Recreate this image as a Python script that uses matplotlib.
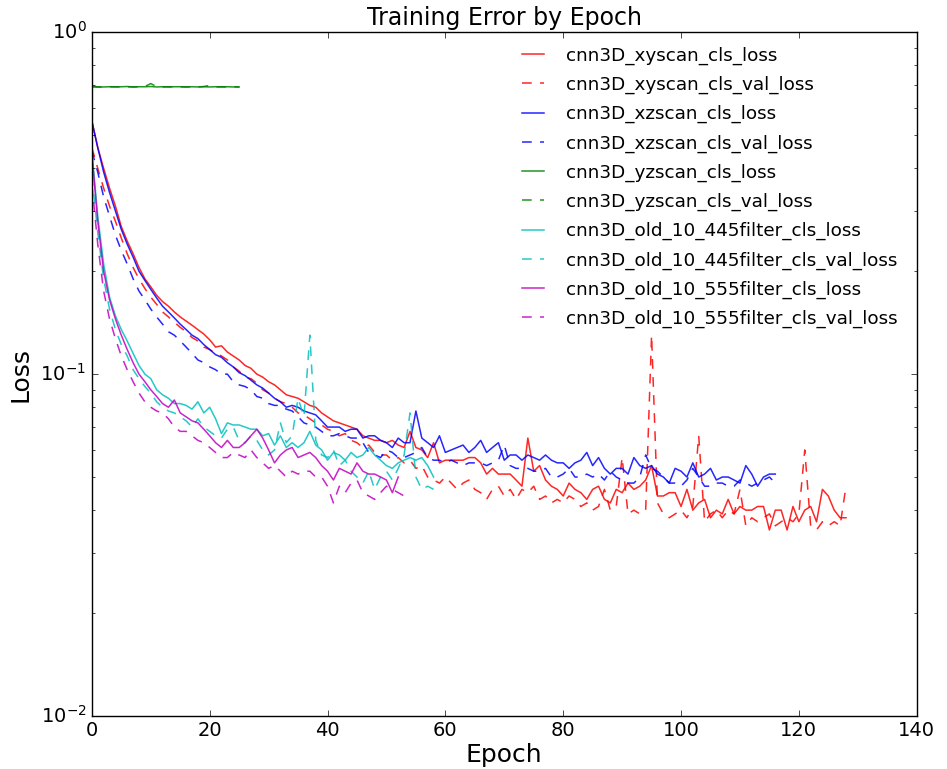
import numpy as np
import matplotlib
matplotlib.use('Agg')
from matplotlib import pyplot as plt

plt.style.use('classic')

# per-epoch losses for each run
xyscan_loss = [0.55, 0.46, 0.40, 0.35, 0.31, 0.27, 0.245, 0.225, 0.205, 0.19,
               0.18, 0.17, 0.163, 0.158, 0.152, 0.147, 0.143, 0.139, 0.135, 0.131,
               0.126, 0.12, 0.121, 0.116, 0.113, 0.110, 0.106, 0.104, 0.100, 0.098,
               0.095, 0.093, 0.090, 0.087, 0.086, 0.085, 0.083, 0.081, 0.080, 0.077,
               0.075, 0.073, 0.072, 0.071, 0.070, 0.069, 0.066, 0.065, 0.064, 0.064,
               0.063, 0.064, 0.062, 0.061, 0.068, 0.061, 0.060, 0.057, 0.063, 0.055,
               0.056, 0.056, 0.056, 0.056, 0.057, 0.057, 0.055, 0.051, 0.053, 0.051,
               0.051, 0.051, 0.049, 0.047, 0.065, 0.052, 0.054, 0.049, 0.047, 0.046,
               0.044, 0.048, 0.046, 0.045, 0.043, 0.046, 0.047, 0.043, 0.042, 0.046,
               0.045, 0.048, 0.046, 0.047, 0.049, 0.054, 0.044, 0.044, 0.045, 0.045,
               0.041, 0.046, 0.040, 0.042, 0.043, 0.038, 0.040, 0.039, 0.043, 0.039,
               0.041, 0.040, 0.040, 0.041, 0.041, 0.035, 0.040, 0.040, 0.035, 0.041,
               0.037, 0.040, 0.041, 0.037, 0.046, 0.044, 0.040, 0.038, 0.038]
xyscan_val = [0.46, 0.40, 0.35, 0.31, 0.28, 0.25, 0.225, 0.205, 0.19, 0.178,
              0.168, 0.16, 0.152, 0.147, 0.142, 0.137, 0.133, 0.128, 0.125, 0.12,
              0.118, 0.115, 0.113, 0.11, 0.105, 0.102, 0.098, 0.097, 0.094, 0.09,
              0.088, 0.085, 0.083, 0.082, 0.080, 0.077, 0.076, 0.074, 0.072, 0.071,
              0.069, 0.068, 0.066, 0.067, 0.064, 0.063, 0.061, 0.062, 0.059, 0.058,
              0.058, 0.056, 0.057, 0.055, 0.056, 0.053, 0.054, 0.050, 0.049, 0.048,
              0.050, 0.048, 0.046, 0.048, 0.049, 0.046, 0.045, 0.043, 0.046, 0.047,
              0.044, 0.046, 0.043, 0.046, 0.045, 0.047, 0.043, 0.044, 0.042, 0.043,
              0.042, 0.044, 0.043, 0.041, 0.042, 0.040, 0.041, 0.046, 0.040, 0.041,
              0.057, 0.039, 0.040, 0.039, 0.040, 0.13, 0.042, 0.039, 0.038, 0.039,
              0.040, 0.038, 0.041, 0.066, 0.037, 0.039, 0.040, 0.038, 0.040, 0.039,
              0.046, 0.036, 0.038, 0.037, 0.038, 0.039, 0.036, 0.037, 0.038, 0.037,
              0.039, 0.060, 0.036, 0.035, 0.037, 0.036, 0.037, 0.036, 0.047]
xzscan_loss = [0.55, 0.46, 0.39, 0.34, 0.30, 0.265, 0.24, 0.22, 0.20, 0.188,
               0.177, 0.167, 0.158, 0.152, 0.146, 0.14, 0.135, 0.13, 0.127, 0.122,
               0.118, 0.114, 0.112, 0.108, 0.105, 0.101, 0.099, 0.096, 0.093, 0.091,
               0.088, 0.085, 0.083, 0.080, 0.081, 0.080, 0.078, 0.077, 0.076, 0.073,
               0.070, 0.070, 0.070, 0.068, 0.069, 0.069, 0.065, 0.066, 0.066, 0.064,
               0.063, 0.061, 0.065, 0.063, 0.063, 0.078, 0.065, 0.063, 0.061, 0.066,
               0.059, 0.060, 0.061, 0.062, 0.059, 0.061, 0.064, 0.059, 0.061, 0.063,
               0.056, 0.058, 0.058, 0.056, 0.058, 0.057, 0.056, 0.058, 0.056, 0.055,
               0.055, 0.053, 0.055, 0.056, 0.059, 0.054, 0.057, 0.053, 0.051, 0.053,
               0.053, 0.051, 0.057, 0.054, 0.053, 0.054, 0.051, 0.050, 0.048, 0.053,
               0.052, 0.050, 0.055, 0.050, 0.051, 0.053, 0.049, 0.050, 0.050, 0.049,
               0.048, 0.054, 0.051, 0.047, 0.050, 0.051, 0.051]
xzscan_val = [0.45, 0.39, 0.33, 0.29, 0.255, 0.23, 0.21, 0.19, 0.175, 0.165,
              0.155, 0.147, 0.14, 0.133, 0.13, 0.125, 0.12, 0.115, 0.11, 0.108,
              0.105, 0.103, 0.100, 0.100, 0.095, 0.093, 0.092, 0.090, 0.086, 0.085,
              0.082, 0.081, 0.081, 0.079, 0.078, 0.075, 0.072, 0.071, 0.070, 0.068,
              0.066, 0.066, 0.067, 0.066, 0.065, 0.065, 0.063, 0.059, 0.058, 0.057,
              0.060, 0.059, 0.057, 0.057, 0.058, 0.059, 0.061, 0.057, 0.056, 0.056,
              0.055, 0.056, 0.055, 0.054, 0.055, 0.055, 0.055, 0.054, 0.055, 0.056,
              0.062, 0.054, 0.053, 0.053, 0.053, 0.052, 0.052, 0.053, 0.050, 0.050,
              0.051, 0.053, 0.050, 0.050, 0.051, 0.050, 0.051, 0.049, 0.052, 0.050,
              0.049, 0.048, 0.048, 0.050, 0.058, 0.053, 0.052, 0.050, 0.048, 0.048,
              0.047, 0.049, 0.053, 0.050, 0.047, 0.047, 0.048, 0.048, 0.047, 0.047,
              0.049, 0.048, 0.047, 0.048, 0.049, 0.050, 0.048]
yzscan_loss = [0.693, 0.691, 0.692, 0.693, 0.692, 0.693, 0.694, 0.692, 0.693, 0.693,
               0.694, 0.692, 0.693, 0.692, 0.693, 0.693, 0.692, 0.693, 0.692, 0.693,
               0.692, 0.693, 0.692, 0.693, 0.692, 0.692]
yzscan_val = [0.694, 0.693, 0.692, 0.693, 0.693, 0.692, 0.693, 0.692, 0.693, 0.694,
              0.708, 0.693, 0.692, 0.693, 0.692, 0.693, 0.692, 0.693, 0.692, 0.694,
              0.699, 0.692, 0.693, 0.692, 0.693, 0.692]
f445_loss = [0.45, 0.29, 0.21, 0.168, 0.148, 0.135, 0.125, 0.115, 0.106, 0.100,
             0.097, 0.090, 0.087, 0.085, 0.082, 0.082, 0.081, 0.079, 0.083, 0.077,
             0.080, 0.074, 0.067, 0.072, 0.071, 0.071, 0.070, 0.069, 0.069, 0.066,
             0.067, 0.062, 0.066, 0.061, 0.063, 0.061, 0.063, 0.068, 0.062, 0.060,
             0.056, 0.059, 0.058, 0.056, 0.059, 0.057, 0.058, 0.061, 0.058, 0.056,
             0.054, 0.053, 0.055, 0.056, 0.057, 0.056, 0.057, 0.054, 0.050]
f445_val = [0.38, 0.26, 0.19, 0.155, 0.135, 0.122, 0.113, 0.103, 0.097, 0.092,
            0.088, 0.083, 0.080, 0.078, 0.077, 0.075, 0.073, 0.070, 0.074, 0.070,
            0.068, 0.066, 0.065, 0.069, 0.070, 0.064, 0.063, 0.066, 0.064, 0.060,
            0.058, 0.060, 0.072, 0.063, 0.066, 0.085, 0.075, 0.13, 0.064, 0.058,
            0.057, 0.060, 0.054, 0.056, 0.052, 0.050, 0.048, 0.052, 0.046, 0.050,
            0.052, 0.049, 0.053, 0.058, 0.077, 0.050, 0.046, 0.047, 0.046]
f555_loss = [0.44, 0.28, 0.20, 0.165, 0.145, 0.13, 0.118, 0.108, 0.100, 0.095,
             0.090, 0.086, 0.082, 0.080, 0.084, 0.077, 0.075, 0.073, 0.072, 0.069,
             0.066, 0.063, 0.061, 0.064, 0.061, 0.061, 0.063, 0.066, 0.069, 0.065,
             0.060, 0.055, 0.058, 0.060, 0.061, 0.057, 0.058, 0.059, 0.057, 0.054,
             0.052, 0.049, 0.053, 0.052, 0.051, 0.055, 0.052, 0.051, 0.051, 0.050,
             0.049, 0.045, 0.050]
f555_val = [0.36, 0.24, 0.175, 0.145, 0.127, 0.113, 0.103, 0.095, 0.088, 0.083,
            0.080, 0.078, 0.077, 0.074, 0.070, 0.068, 0.068, 0.066, 0.064, 0.063,
            0.061, 0.059, 0.057, 0.057, 0.059, 0.058, 0.057, 0.060, 0.057, 0.055,
            0.053, 0.054, 0.052, 0.050, 0.052, 0.051, 0.052, 0.052, 0.050, 0.050,
            0.047, 0.042, 0.047, 0.045, 0.048, 0.049, 0.045, 0.044, 0.043, 0.045,
            0.047, 0.046, 0.045, 0.044]

runs = [
    ('cnn3D_xyscan_cls_loss', xyscan_loss, 'r', '-'),
    ('cnn3D_xyscan_cls_val_loss', xyscan_val, 'r', '--'),
    ('cnn3D_xzscan_cls_loss', xzscan_loss, 'b', '-'),
    ('cnn3D_xzscan_cls_val_loss', xzscan_val, 'b', '--'),
    ('cnn3D_yzscan_cls_loss', yzscan_loss, 'g', '-'),
    ('cnn3D_yzscan_cls_val_loss', yzscan_val, 'g', '--'),
    ('cnn3D_old_10_445filter_cls_loss', f445_loss, 'c', '-'),
    ('cnn3D_old_10_445filter_cls_val_loss', f445_val, 'c', '--'),
    ('cnn3D_old_10_555filter_cls_loss', f555_loss, 'm', '-'),
    ('cnn3D_old_10_555filter_cls_val_loss', f555_val, 'm', '--'),
]

fig = plt.figure(figsize=(9.47, 7.69), dpi=100, facecolor='white')
ax = fig.add_axes([0.097, 0.069, 0.871, 0.889])

for name, vals, col, ls in runs:
    line, = ax.plot(np.arange(len(vals)), vals, color=col, linestyle=ls,
                    label=name, alpha=0.85, linewidth=1.1)
    if ls == '--':
        line.set_dashes((7, 6))

ax.set_yscale('log')
ax.set_xlim(0, 140)
ax.set_ylim(1e-2, 1e0)
ax.tick_params(labelsize=14)
ax.set_xlabel('Epoch', fontsize=18, labelpad=2)
ax.set_ylabel('Loss', fontsize=18, labelpad=6)
ax.set_title('Training Error by Epoch', fontsize=17)
ax.legend(loc='upper right', frameon=False, fontsize=13.2, labelspacing=0.6,
          handlelength=1.8, handletextpad=0.9, borderaxespad=0.3,
          bbox_to_anchor=(0.992, 0.998))

fig.savefig('out.png', dpi=100, facecolor='white')
